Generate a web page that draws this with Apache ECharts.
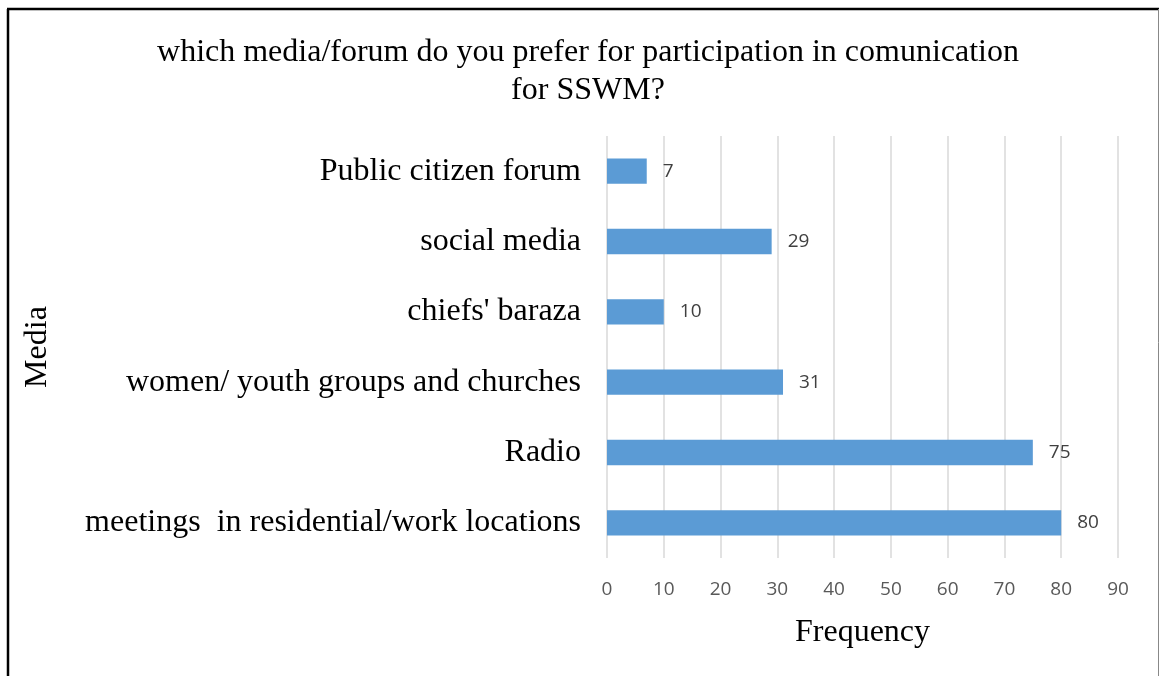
<!DOCTYPE html>
<html>
<head>
<meta charset="utf-8">
<script src="https://cdn.jsdelivr.net/npm/echarts@6/dist/echarts.min.js"></script>
<style>
  html, body { margin: 0; padding: 0; background: #fff; }
  #chart { width: 1159px; height: 676px; }
</style>
</head>
<body>
<div id="chart"></div>
<script>
// Survey responses: preferred media/forum, listed bottom to top
const categories = [
  'meetings  in residential/work locations',
  'Radio',
  'women/ youth groups and churches',
  "chiefs' baraza",
  'social media',
  'Public citizen forum'
];
const frequencies = [80, 75, 31, 10, 29, 7];
const xTicks = [0, 10, 20, 30, 40, 50, 60, 70, 80, 90];

const titleText = 'which media/forum do you prefer for participation in comunication\nfor SSWM?';
const serif = '"Liberation Serif", "Times New Roman", serif';
const sans = '"Open Sans", "Noto Sans", sans-serif';

const chart = echarts.init(document.getElementById('chart'));
chart.setOption({
  animation: false,
  backgroundColor: '#ffffff',
  title: {
    text: titleText,
    left: 583,
    textAlign: 'center',
    top: 29,
    textStyle: {
      fontFamily: serif,
      fontWeight: 'normal',
      fontSize: 32,
      color: '#000',
      lineHeight: 38,
      align: 'center'
    }
  },
  grid: { left: 607, right: 41, top: 136, bottom: 118, containLabel: false },
  xAxis: {
    type: 'value',
    min: xTicks[0],
    max: xTicks[xTicks.length - 1],
    interval: 10,
    name: 'Frequency',
    nameLocation: 'middle',
    nameGap: 59,
    nameTextStyle: { fontFamily: serif, fontSize: 32, color: '#000' },
    axisLine: { show: false },
    axisTick: { show: false },
    axisLabel: { fontFamily: sans, fontSize: 19, color: '#595959', margin: 22 },
    splitLine: { show: true, lineStyle: { color: '#d9d9d9', width: 1.5 } }
  },
  yAxis: {
    type: 'category',
    data: categories,
    name: 'Media',
    nameLocation: 'middle',
    nameGap: 553,
    nameRotate: 90,
    nameTextStyle: { fontFamily: serif, fontSize: 32, color: '#000' },
    axisLine: { show: false },
    axisTick: { show: false },
    axisLabel: { fontFamily: serif, fontSize: 32, color: '#000', margin: 26 }
  },
  series: [{
    type: 'bar',
    data: frequencies,
    barWidth: '36%',
    itemStyle: { color: '#5b9bd5' },
    label: {
      show: true,
      position: 'right',
      distance: 16,
      fontFamily: sans,
      fontSize: 19,
      color: '#404040'
    }
  }],
  graphic: [
    { type: 'line', shape: { x1: 8, y1: 9, x2: 8, y2: 676 }, style: { stroke: '#000', lineWidth: 2.5 } },
    { type: 'line', shape: { x1: 7, y1: 9, x2: 1159, y2: 9 }, style: { stroke: '#000', lineWidth: 2.5 } },
    { type: 'line', shape: { x1: 1158.5, y1: 9, x2: 1158.5, y2: 676 }, style: { stroke: '#888', lineWidth: 1 } }
  ]
});
</script>
</body>
</html>
